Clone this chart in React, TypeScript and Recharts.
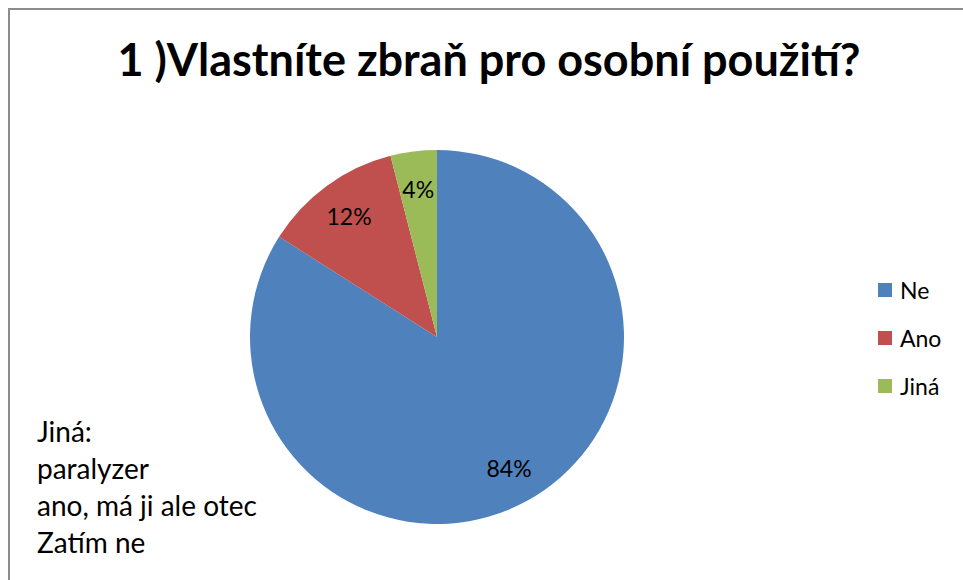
import { Legend, Pie, PieChart, Cell } from "recharts";

// Survey pie: 1 )Vlastníte zbraň pro osobní použití?

const answers = ["Ne", "Ano", "Jiná"];
const shares = [84, 12, 4];
const colors = ["#4F81BD", "#C0504D", "#9BBB59"];
const otherNotes = ["Jiná:", "paralyzer", "ano, má ji ale otec", "Zatím ne"];

const FONT = "Lato, 'Open Sans', sans-serif";
const RADIAN = Math.PI / 180;

const data = answers.map((name, i) => ({ name, value: shares[i] }));

function renderLabel(props: any) {
  const { cx, cy, midAngle, outerRadius, value } = props;
  const r = outerRadius * 0.8;
  const x = cx + r * Math.cos(-midAngle * RADIAN);
  const y = cy + r * Math.sin(-midAngle * RADIAN);
  return (
    <text
      x={x}
      y={y}
      fill="#000"
      textAnchor="middle"
      dominantBaseline="central"
      fontSize={23}
      fontFamily={FONT}
    >
      {value}%
    </text>
  );
}

function renderLegend() {
  return (
    <div style={{ fontFamily: FONT, fontSize: 23 }}>
      {answers.map((name, i) => (
        <div
          key={name}
          style={{ display: "flex", alignItems: "center", height: 48 }}
        >
          <span
            style={{
              width: 14,
              height: 14,
              background: colors[i],
              marginRight: 8,
              display: "inline-block",
            }}
          />
          <span>{name}</span>
        </div>
      ))}
    </div>
  );
}

export default function App() {
  return (
    <div
      style={{
        position: "absolute",
        left: 0,
        top: 0,
        width: 963,
        height: 580,
        background: "#fff",
        overflow: "hidden",
      }}
    >
      <div
        style={{
          position: "absolute",
          left: 8,
          top: 8,
          width: 960,
          height: 580,
          borderLeft: "2px solid #8c8c8c",
          borderTop: "2px solid #8c8c8c",
        }}
      />
      <div
        style={{
          position: "absolute",
          left: 0,
          top: 32,
          width: 978,
          textAlign: "center",
          fontFamily: FONT,
          fontWeight: 700,
          fontSize: 45,
          color: "#000",
        }}
      >
        1 )Vlastníte zbraň pro osobní použití?
      </div>
      <PieChart
        width={963}
        height={580}
        margin={{ top: 0, right: 0, bottom: 0, left: 0 }}
        style={{ position: "absolute", left: 0, top: 0 }}
      >
        <Pie
          data={data}
          dataKey="value"
          nameKey="name"
          cx={437}
          cy={337}
          outerRadius={187}
          startAngle={90}
          endAngle={-270}
          stroke="none"
          label={renderLabel}
          labelLine={false}
          isAnimationActive={false}
        >
          {data.map((d, i) => (
            <Cell key={d.name} fill={colors[i]} />
          ))}
        </Pie>
        <Legend
          layout="vertical"
          content={renderLegend}
          wrapperStyle={{ position: "absolute", left: 878, top: 266, width: 85 }}
        />
      </PieChart>
      <div
        style={{
          position: "absolute",
          left: 37,
          top: 413,
          fontFamily: FONT,
          fontSize: 28,
          lineHeight: "37px",
          color: "#000",
        }}
      >
        {otherNotes.map((line) => (
          <div key={line}>{line}</div>
        ))}
      </div>
    </div>
  );
}
